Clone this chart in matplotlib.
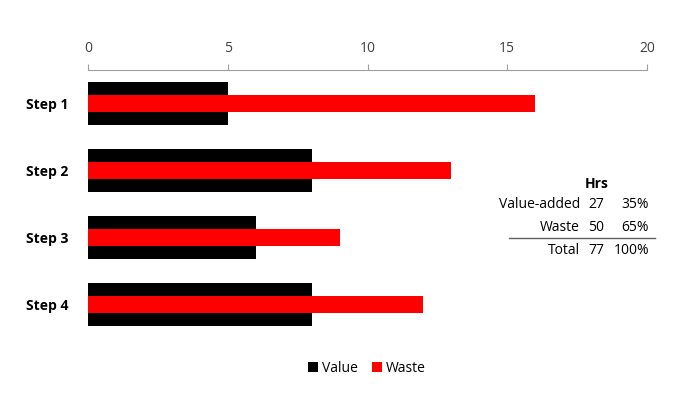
import matplotlib.pyplot as plt
import numpy as np

plt.rcParams['font.family'] = ['Open Sans', 'DejaVu Sans']

steps = ["Step 1", "Step 2", "Step 3", "Step 4"]
value_hrs = [5, 8, 6, 8]
waste_hrs = [16, 13, 9, 12]
x_ticks = [0, 5, 10, 15, 20]

fig = plt.figure(figsize=(7, 4), dpi=100)
ax = fig.add_axes([0.1257, 0.155, 0.7986, 0.67])

y = np.arange(len(steps))
ax.barh(y, value_hrs, height=0.63, color="black", label="Value")
ax.barh(y, waste_hrs, height=0.24, color="#ff0000", label="Waste")

ax.set_xlim(0, 20)
ax.set_ylim(3.5, -0.5)
ax.set_xticks(x_ticks)
ax.xaxis.tick_top()
ax.tick_params(axis="x", direction="out", length=4, color="#a0a0a0",
               labelsize=10, labelcolor="#404040", pad=6)
ax.set_yticks(y)
ax.set_yticklabels(steps, fontweight="bold", fontsize=10)
ax.tick_params(axis="y", length=0, pad=14)
for s in ["right", "bottom", "left"]:
    ax.spines[s].set_visible(False)
ax.spines["top"].set_color("#a0a0a0")

# summary table
total = sum(value_hrs) + sum(waste_hrs)
rows = [("Value-added", sum(value_hrs)), ("Waste", sum(waste_hrs)), ("Total", total)]
ys = [205, 228, 250]
fig.text(597 / 700, 1 - 184 / 400, "Hrs", ha="center", va="center",
         fontweight="bold", fontsize=10)
for (name, hrs), yy in zip(rows, ys):
    fy = 1 - yy / 400
    fig.text(580 / 700, fy, name, ha="right", va="center", fontsize=10)
    fig.text(604 / 700, fy, str(hrs), ha="right", va="center", fontsize=10)
    fig.text(649 / 700, fy, f"{round(100 * hrs / total)}%", ha="right",
             va="center", fontsize=10)
fig.add_artist(plt.Line2D([509 / 700, 655 / 700], [1 - 238 / 400] * 2,
                          color="#606060", lw=1))

fig.legend(loc="center", bbox_to_anchor=(367 / 700, 1 - 368 / 400), ncol=2,
           frameon=False, fontsize=10, handlelength=0.7, handleheight=0.7,
           handletextpad=0.3, columnspacing=1.0)

fig.savefig("out.png", dpi=100)
